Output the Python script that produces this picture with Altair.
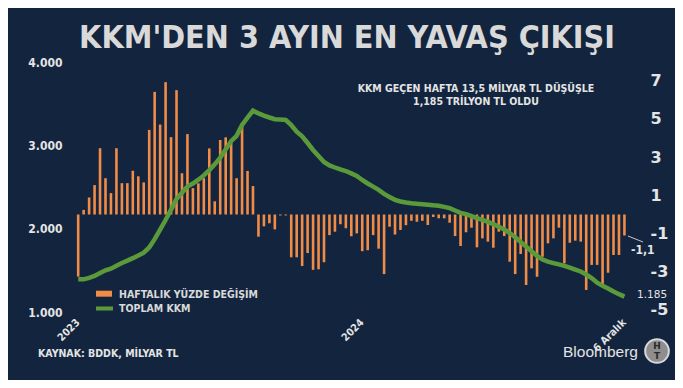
import altair as alt
import pandas as pd

# ---- data ----
pct = [-3.25, 0.24, 0.89, 1.54, 3.47, 1.90, 1.12, 3.47, 1.64, 1.64,
       2.29, 2.00, 1.68, 4.43, 6.42, 4.71, 6.93, 4.05, 6.51, 2.16,
       4.21, 1.38, 1.63, 1.90, 3.46, 0.69, 3.90, 4.04, 3.75, 1.90,
       4.77, 2.28, 1.49, -1.16, -0.62, -0.46, -0.78, -0.05, -0.05, -2.24,
       -2.24, -2.70, -2.02, -2.90, -2.87, -2.50, -1.08, -0.90, -0.51, -0.72,
       -1.14, -0.99, -1.92, -1.87, -1.08, -1.79, -3.12, -0.64, -1.05, -0.81,
       -0.56, -0.33, -0.38, -0.33, -0.55, -0.13, -0.20, -0.20, -0.43, -1.13,
       -1.65, -0.93, -0.69, -1.72, -1.25, -1.42, -1.74, -0.90, -1.13, -2.47,
       -3.12, -2.07, -3.69, -2.82, -3.26, -2.21, -1.51, -1.25, -0.69, -2.56,
       -1.48, -1.37, -1.42, -3.95, -2.64, -2.64, -3.69, -3.05, -2.12, -2.12,
       -1.10]

kkm = [1392, 1392, 1409, 1433, 1467, 1500, 1520, 1554, 1588, 1616,
       1646, 1678, 1712, 1774, 1874, 1988, 2104, 2229, 2356, 2430,
       2505, 2541, 2588, 2639, 2703, 2772, 2853, 2950, 3051, 3114,
       3244, 3332, 3416, 3384, 3356, 3334, 3314, 3309, 3304, 3244,
       3164, 3108, 3028, 2944, 2872, 2800, 2759, 2734, 2711, 2692,
       2663, 2632, 2584, 2542, 2505, 2466, 2418, 2380, 2346, 2326,
       2314, 2304, 2298, 2294, 2288, 2280, 2274, 2261, 2246, 2218,
       2189, 2175, 2150, 2126, 2106, 2081, 2054, 2024, 1991, 1947,
       1896, 1841, 1786, 1730, 1674, 1630, 1605, 1587, 1572, 1553,
       1532, 1509, 1486, 1450, 1407, 1352, 1316, 1282, 1246, 1214,
       1185]

x_tick_values = [0, 52, 100]
x_tick_labels = ["2023", "2024", "6 Aralık"]
left_ticks = [1000, 2000, 3000, 4000]
right_ticks = [-5, -3, -1, 1, 3, 5, 7]
legend_labels = ["HAFTALIK YÜZDE DEĞİŞİM", "TOPLAM KKM"]

title_text = "KKM'DEN 3 AYIN EN YAVAŞ ÇIKIŞI"
note_lines = ["KKM GEÇEN HAFTA 13,5 MİLYAR TL DÜŞÜŞLE", "1,185 TRİLYON TL OLDU"]
source_text = "KAYNAK: BDDK, MİLYAR TL"
last_pct_label = "-1,1"
last_kkm_label = "1.185"

# ---- style ----
BG = "#13243f"
ORANGE = "#f08c46"
GREEN = "#5b9a3a"
TXT = "#e4e4e4"
COND = "DejaVu Sans Condensed, DejaVu Sans"
SANS = "DejaVu Sans"

df = pd.DataFrame({"i": list(range(len(pct))), "pct": pct, "kkm": kkm})

x_expr = ""
for v, l in zip(x_tick_values, x_tick_labels):
    x_expr += f"datum.value == {v} ? '{l}' : "
x_expr += "''"

x_enc = alt.X(
    "i:Q",
    scale=alt.Scale(domain=[-0.95, 102.3], nice=False, zero=False),
    axis=alt.Axis(values=x_tick_values, labelExpr=x_expr, labelAngle=-45,
                  labelAlign="right", labelBaseline="top", labelPadding=5,
                  labelOffset=-4,
                  ticks=False, domain=False, grid=False, title=None,
                  labelColor=TXT, labelFont=COND, labelFontSize=10.5,
                  labelFontWeight="bold", labelOverlap=False, labelFlush=False),
)

bars = alt.Chart(df).mark_bar(color=ORANGE, size=2.6).encode(
    x=x_enc,
    y=alt.Y("pct:Q",
            scale=alt.Scale(domain=[-5.105, 7.984], nice=False, zero=False),
            axis=alt.Axis(orient="right", values=right_ticks, ticks=False,
                          labelExpr="datum.value < 0 ? '-' + abs(datum.value) : '' + datum.value",
                          domain=False, grid=False, title=None, labelPadding=8,
                          labelColor=TXT, labelFont=SANS, labelFontSize=16,
                          labelFontWeight="bold")),
    y2=alt.datum(0),
)

line = alt.Chart(df).mark_line(color=GREEN, strokeWidth=4.5).encode(
    x=alt.X("i:Q"),
    y=alt.Y("kkm:Q",
            scale=alt.Scale(domain=[1000, 4000], nice=False, zero=False),
            axis=alt.Axis(orient="left", values=left_ticks,
                          labelExpr="replace(format(datum.value, ','), ',', '.')",
                          ticks=False, domain=False, grid=False, title=None,
                          labelPadding=6, labelColor=TXT, labelFont=COND,
                          labelFontSize=12, labelFontWeight="bold")),
)


def txt(s, x, y, size, weight="bold", color=TXT, align="left", font=COND):
    return alt.Chart(pd.DataFrame({"t": [s]})).mark_text(
        align=align, baseline="alphabetic", fontSize=size, fontWeight=weight,
        font=font, color=color).encode(x=alt.value(x), y=alt.value(y), text="t:N")


one = pd.DataFrame({"k": [0]})

leg_rect = alt.Chart(one).mark_rect(color=ORANGE).encode(
    x=alt.value(28), x2=alt.value(44), y=alt.value(228.7), y2=alt.value(234.7))
leg_line = alt.Chart(one).mark_rule(color=GREEN, strokeWidth=4).encode(
    x=alt.value(28), x2=alt.value(45), y=alt.value(246.5))
leader = alt.Chart(one).mark_rule(color="#c8c8c8", strokeWidth=1).encode(
    x=alt.value(560), x2=alt.value(575), y=alt.value(174), y2=alt.value(180))

logo = alt.Chart(one).mark_point(shape="circle", filled=True, size=560,
                                 color="#8e8e8e", opacity=1,
                                 stroke="#d8d8d8", strokeWidth=2).encode(
    x=alt.value(589), y=alt.value(289))

layers = [
    bars, line,
    txt(title_text, 279, -14, 32, color="#d9d9d9", align="center"),
    txt(note_lines[0], 408, 29.5, 10.5, align="center"),
    txt(note_lines[1], 408, 43, 10.5, align="center"),
    leg_rect, leg_line,
    txt(legend_labels[0], 51, 235.5, 10.5, color="#d9d9d9"),
    txt(legend_labels[1], 51, 250, 10.5, color="#d9d9d9"),
    leader,
    txt(last_pct_label, 563, 192, 12),
    txt(last_kkm_label, 569, 236, 10.5, weight="normal", font=SANS),
    txt(source_text, -30, 295, 10.5),
    txt("Bloomberg", 495, 295, 15.5, weight="normal", font="Liberation Sans"),
    logo,
    txt("H", 589, 287, 9, color="#2a2a2a", align="center", font=SANS),
    txt("T", 589, 297, 9, color="#2a2a2a", align="center", font=SANS),
]

chart = alt.layer(*layers).resolve_scale(y="independent").properties(
    width=574, height=250,
    autosize=alt.AutoSizeParams(type="none"),
    padding={"left": 60, "top": 54, "right": 33, "bottom": 68},
    background=BG,
).configure_view(stroke=None)

chart.save("out.html", embed_options={"renderer": "svg", "actions": False})
